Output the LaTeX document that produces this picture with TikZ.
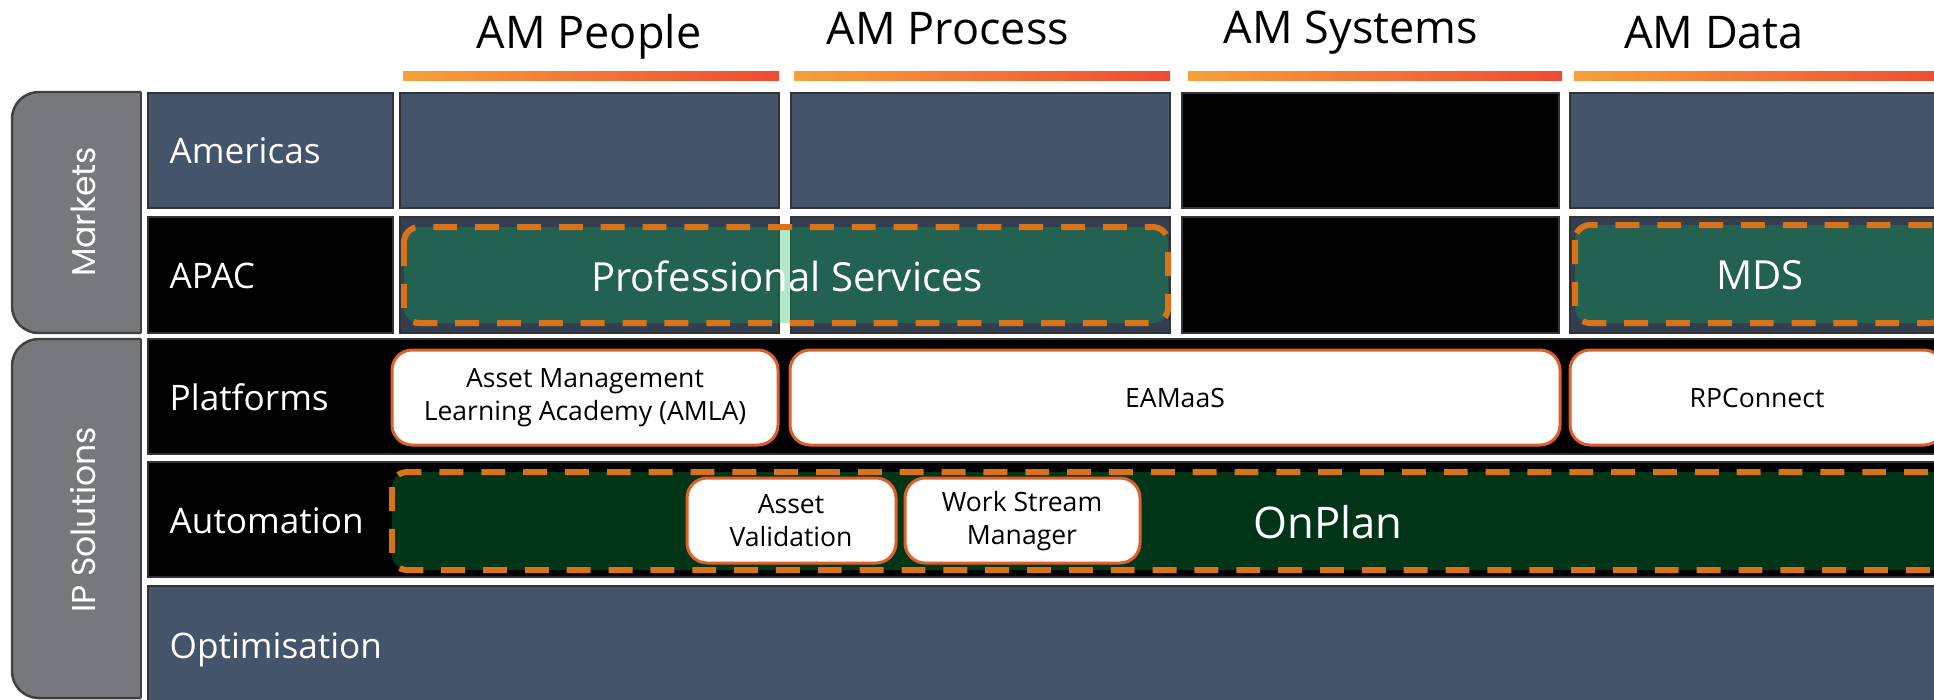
\documentclass[tikz,border=0pt]{standalone}
\usepackage{fontspec}
\setmainfont{Open Sans}
\newfontfamily\tabfont{Poppins}
\usetikzlibrary{positioning}

\definecolor{slate}{HTML}{44546A}
\definecolor{darkslate}{HTML}{333F50}
\definecolor{tabgray}{HTML}{77787C}
\definecolor{tabedge}{HTML}{404040}
\definecolor{brandgreen}{HTML}{00B050}
\definecolor{dashorange}{RGB}{218,114,26}
\definecolor{boxorange}{RGB}{224,95,40}
\definecolor{barleft}{HTML}{F6A13A}
\definecolor{barright}{HTML}{ED4B33}

\begin{document}
\begin{tikzpicture}[x=0.01cm, y=-0.01cm,
	cell/.style={draw=black!80, line width=0.6pt},
	tab/.style={fill=tabgray, draw=tabedge, line width=0.7pt, rounded corners=7.6pt},
	bar/.style={left color=barleft, right color=barright},
	greenbox/.style={fill=brandgreen, fill opacity=0.3, draw=dashorange, line width=1.7pt, dash pattern=on 6.8pt off 5.1pt, rounded corners=4.3pt},
	whitebox/.style={fill=white, draw=boxorange, line width=0.85pt, rounded corners=5.7pt},
	heading/.style={anchor=base, inner sep=0pt, font=\fontsize{12.8pt}{15pt}\selectfont},
	rowlabel/.style={anchor=base west, inner sep=0pt, text=white, font=\fontsize{10pt}{12pt}\selectfont},
	tablabel/.style={anchor=base, inner sep=0pt, rotate=90, text=white, font=\tabfont\fontsize{9.4pt}{11pt}\selectfont},
	greentext/.style={anchor=base, inner sep=0pt, text=white, font=\fontsize{11.4pt}{13pt}\selectfont},
	boxtext/.style={align=center, inner sep=0pt, font=\fontsize{7.55pt}{9.4pt}\selectfont}]
	\useasboundingbox (0,0) rectangle (1934,699);
	\clip (0,0) rectangle (1934,699);
	\fill[white] (0,0) rectangle (1934,699);
	% column headings
	\node[heading] (people) at (589,48) {AM People};
	\node[heading] (process) at (948,44) {AM Process};
	\node[heading] (systems) at (1351,43) {AM Systems};
	\node[heading] (data) at (1714,48) {AM Data};
	\foreach \a/\b in {403/779, 794/1170, 1188/1562, 1574/1950}
	  \shade[bar] (\a,71) rectangle (\b,80);
	% side tabs
	\begin{scope}
	  \clip (0,0) rectangle (141,699);
	  \draw[tab] (12,92) rectangle (180,333);
	  \draw[tab] (12,339) rectangle (180,698);
	\end{scope}
	\draw[draw=tabedge, line width=0.7pt] (141,92) -- (141,333);
	\draw[draw=tabedge, line width=0.7pt] (141,339) -- (141,698);
	\node[tablabel] (markets) at (95,212) {Markets};
	\node[tablabel] (ipsolutions) at (95,520) {IP Solutions};
	% markets rows
	\draw[cell, fill=slate] (148,93) rectangle (393,208);
	\draw[cell, fill=slate] (400,93) rectangle (779,208);
	\draw[cell, fill=slate] (791,93) rectangle (1170,208);
	\draw[cell, fill=black] (1182,93) rectangle (1559,208);
	\draw[cell, fill=slate] (1570,93) rectangle (1960,208);
	\draw[cell, fill=black] (148,217) rectangle (393,333);
	\draw[cell, fill=darkslate] (400,217) rectangle (779,333);
	\draw[cell, fill=darkslate] (791,217) rectangle (1170,333);
	\draw[cell, fill=black] (1182,217) rectangle (1559,333);
	\draw[cell, fill=darkslate] (1570,217) rectangle (1960,333);
	% solution bands
	\draw[cell, fill=black] (148,339) rectangle (1960,454);
	\draw[cell, fill=black] (148,462) rectangle (1960,577);
	\draw[cell, fill=slate] (148,586) rectangle (1960,712);
	% dashed groups
	\draw[greenbox] (404,227) rectangle (1168,323);
	\draw[greenbox] (1575,225) rectangle (1945,323);
	\draw[greenbox] (392,472) rectangle (2000,570);
	% white boxes
	\draw[whitebox] (392,350) rectangle (778,445);
	\draw[whitebox] (790,350) rectangle (1560,445);
	\draw[whitebox] (1570,350) rectangle (1944,445);
	\draw[whitebox] (687,478) rectangle (896,563);
	\draw[whitebox] (905,478) rectangle (1140,563);
	% row labels
	\node[rowlabel] (americas) at (169,163) {Americas};
	\node[rowlabel] (apac) at (169,288) {APAC};
	\node[rowlabel] (platforms) at (169,410) {Platforms};
	\node[rowlabel] (automation) at (169,533) {Automation};
	\node[rowlabel] (optimisation) at (169,658) {Optimisation};
	% texts
	\node[greentext] (profservices) at (787,291) {Professional Services};
	\node[greentext] (mds) at (1760,289) {MDS};
	\node[greentext, font=\fontsize{12.4pt}{14pt}\selectfont] (onplan) at (1328,538) {OnPlan};
	\node[boxtext] (amla) at (585,398) {Asset Management\\Learning Academy (AMLA)};
	\node[boxtext] (eamaas) at (1175,398) {EAMaaS};
	\node[boxtext] (rpconnect) at (1757,398) {RPConnect};
	\node[boxtext] (validation) at (791,521) {Asset\\Validation};
	\node[boxtext] (wsm) at (1022,521) {Work Stream\\Manager};
\end{tikzpicture}
\end{document}
